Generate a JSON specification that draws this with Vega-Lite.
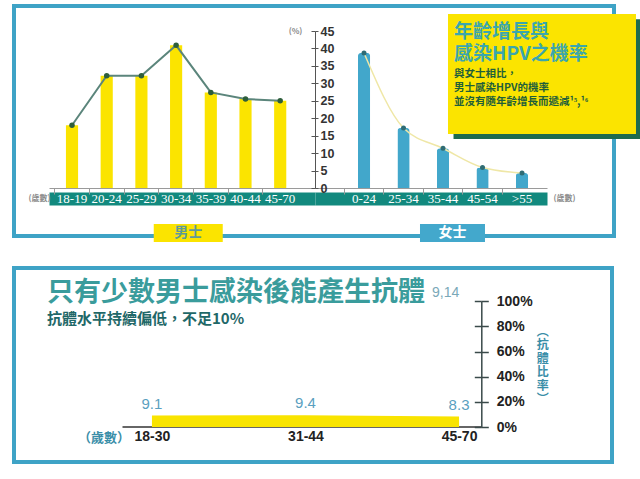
{
  "$schema": "https://vega.github.io/schema/vega-lite/v6.json",
  "padding": {"left": 12, "top": 4, "right": 0, "bottom": 0},
  "background": "white",
  "bounds": "flush",
  "spacing": 32,
  "config": {"font": "Noto Sans CJK TC", "view": {"stroke": null}, "axis": {"labelOverlap": false}},
  "datasets": {
    "men": [
      {"age": "18-19", "pct": 18},
      {"age": "20-24", "pct": 32.2},
      {"age": "25-29", "pct": 32.2},
      {"age": "30-34", "pct": 40.9},
      {"age": "35-39", "pct": 27.4},
      {"age": "40-44", "pct": 25.5},
      {"age": "45-70", "pct": 25}
    ],
    "women": [
      {"age": "0-24", "pct": 38.7},
      {"age": "25-34", "pct": 17.2},
      {"age": "35-44", "pct": 11.4},
      {"age": "45-54", "pct": 5.9},
      {"age": ">55", "pct": 4.3}
    ],
    "antibody": [
      {"age": "18-30", "rate": 9.1},
      {"age": "31-44", "rate": 9.4},
      {"age": "45-70", "rate": 8.3}
    ],
    "one": [{}]
  },
  "vconcat": [
    {
      "width": 600,
      "height": 230,
      "view": {"stroke": "#3ea3c6", "strokeWidth": 4},
      "title": {
        "text": ["年齡增長與", "感染HPV之機率"],
        "subtitle": ["與女士相比，", "男士感染HPV的機率", "並沒有隨年齡增長而遞減¹⁵,¹⁶"],
        "orient": "top",
        "anchor": "end",
        "align": "left",
        "frame": "group",
        "dx": -160,
        "offset": -101,
        "fontSize": 19,
        "fontWeight": "bold",
        "lineHeight": 22,
        "color": "#3aa6ae",
        "subtitleFontSize": 10.5,
        "subtitleFontWeight": "bold",
        "subtitleLineHeight": 14,
        "subtitleColor": "#1f5f3a",
        "subtitlePadding": 5
      },
      "resolve": {"scale": {"x": "independent"}, "axis": {"y": "independent"}},
      "layer": [
        {
          "data": {"name": "men"},
          "mark": {"type": "bar", "color": "#fbe400", "width": {"band": 0.35}},
          "encoding": {
            "x": {
              "field": "age", "type": "nominal",
              "scale": {"type": "band", "domain": ["18-19", "20-24", "25-29", "30-34", "35-39", "40-44", "45-70"], "range": [35, 301], "paddingInner": 0, "paddingOuter": 0.333, "align": 0.245},
              "axis": {"orient": "bottom", "offset": -37.5, "domainColor": "#12897e", "domainWidth": 13, "domainCap": "butt", "ticks": false, "labels": false,
                "title": "(歲數)", "titleX": 25, "titleY": 0, "titleAlign": "center", "titleBaseline": "middle", "titleFontSize": 8, "titleFontWeight": "bold", "titleColor": "#8a8a8a"}
            },
            "y": {
              "field": "pct", "type": "quantitative",
              "scale": {"domain": [0, 45], "range": [182, 25], "nice": false, "zero": false},
              "axis": {"orient": "right", "offset": -299, "values": [0, 5, 10, 15, 20, 25, 30, 35, 40, 45], "labelOverlap": false, "grid": false, "domainColor": "#555", "tickColor": "#555", "tickSize": 3, "labelColor": "#333", "labelFont": "Liberation Sans", "labelFontSize": 12.5, "labelFontWeight": "bold", "labelPadding": 2,
                "title": "(%)", "titleAngle": 0, "titleX": -20, "titleY": 25, "titleAlign": "center", "titleBaseline": "middle", "titleFontSize": 8, "titleFontWeight": "bold", "titleColor": "#8a8a8a"}
            }
          }
        },
        {
          "data": {"name": "one"},
          "mark": {"type": "point", "shape": "M-1,-0.638L1,-0.638L1,0.638L-1,0.638Z", "size": 35344, "filled": true, "color": "#1d6b4e", "opacity": 1},
          "encoding": {
            "x": {"datum": ">55", "bandPosition": 1.146, "type": "nominal", "scale": {"type": "band", "domain": ["0-24", "25-34", "35-44", "45-54", ">55"], "range": [301, 533], "paddingInner": 0, "paddingOuter": 0.437, "align": 0.848}, "axis": null},
            "y": {"datum": 31.2, "type": "quantitative", "axis": null}
          }
        },
        {
          "data": {"name": "one"},
          "mark": {"type": "point", "shape": "M-1,-0.638L1,-0.638L1,0.638L-1,0.638Z", "size": 35344, "filled": true, "color": "#fbe400", "opacity": 1},
          "encoding": {
            "x": {"datum": ">55", "bandPosition": 1.006, "type": "nominal", "scale": {"type": "band", "domain": ["0-24", "25-34", "35-44", "45-54", ">55"], "range": [301, 533], "paddingInner": 0, "paddingOuter": 0.437, "align": 0.848}, "axis": null},
            "y": {"datum": 32.7, "type": "quantitative", "axis": null}
          }
        },
        {
          "data": {"name": "men"},
          "mark": {"type": "line", "color": "#5b857b", "strokeWidth": 2},
          "encoding": {
            "x": {
              "field": "age", "type": "nominal",
              "scale": {"type": "band", "domain": ["18-19", "20-24", "25-29", "30-34", "35-39", "40-44", "45-70"], "range": [35, 301], "paddingInner": 0, "paddingOuter": 0.333, "align": 0.245},
              "axis": {"orient": "bottom", "offset": -48, "domainColor": "#9a9a9a", "tickColor": "#9a9a9a", "tickSize": 6, "bandPosition": 0, "labels": false, "title": null, "grid": false}
            },
            "y": {"field": "pct", "type": "quantitative",
              "axis": {"orient": "left", "offset": -301, "values": [0, 5, 10, 15, 20, 25, 30, 35, 40, 45], "domain": false, "labels": false, "tickColor": "#555", "tickSize": 4, "grid": false, "title": null}}
          }
        },
        {
          "data": {"name": "men"},
          "mark": {"type": "point", "filled": true, "color": "#2d5e3b", "size": 30, "opacity": 1},
          "encoding": {
            "x": {"field": "age", "type": "nominal", "scale": {"type": "band", "domain": ["18-19", "20-24", "25-29", "30-34", "35-39", "40-44", "45-70"], "range": [35, 301], "paddingInner": 0, "paddingOuter": 0.333, "align": 0.245},
              "axis": {"orient": "bottom", "offset": -37.5, "domain": false, "ticks": false, "tickSize": 0, "labelColor": "white", "labelFont": "Liberation Sans Narrow", "labelFontSize": 13, "labelAngle": 0, "labelBaseline": "middle", "labelPadding": 0, "labelOverlap": false, "zindex": 2, "title": null, "grid": false}},
            "y": {"field": "pct", "type": "quantitative", "axis": null}
          }
        },
        {
          "data": {"name": "women"},
          "mark": {"type": "bar", "color": "#42a7cb", "width": {"band": 0.31}, "cornerRadiusTopLeft": 3, "cornerRadiusTopRight": 3},
          "encoding": {
            "x": {
              "field": "age", "type": "nominal",
              "scale": {"type": "band", "domain": ["0-24", "25-34", "35-44", "45-54", ">55"], "range": [301, 533], "paddingInner": 0, "paddingOuter": 0.437, "align": 0.848},
              "axis": {"orient": "bottom", "offset": -37.5, "domainColor": "#12897e", "domainWidth": 13, "domainCap": "butt", "ticks": false, "labels": false,
                "title": "(歲數)", "titleX": 550, "titleY": 0, "titleAlign": "center", "titleBaseline": "middle", "titleFontSize": 8, "titleFontWeight": "bold", "titleColor": "#8a8a8a"}
            },
            "y": {"field": "pct", "type": "quantitative", "axis": null}
          }
        },
        {
          "data": {"name": "women"},
          "mark": {"type": "line", "color": "#efe7a6", "strokeWidth": 1.5, "interpolate": "monotone"},
          "encoding": {
            "x": {
              "field": "age", "type": "nominal",
              "scale": {"type": "band", "domain": ["0-24", "25-34", "35-44", "45-54", ">55"], "range": [301, 533], "paddingInner": 0, "paddingOuter": 0.437, "align": 0.848},
              "axis": {"orient": "bottom", "offset": -48, "domainColor": "#9a9a9a", "tickColor": "#9a9a9a", "tickSize": 6, "bandPosition": 0, "labels": false, "title": null, "grid": false}
            },
            "y": {"field": "pct", "type": "quantitative", "axis": null}
          }
        },
        {
          "data": {"name": "women"},
          "mark": {"type": "point", "filled": true, "color": "#2f6c74", "size": 25, "opacity": 1},
          "encoding": {
            "x": {"field": "age", "type": "nominal", "scale": {"type": "band", "domain": ["0-24", "25-34", "35-44", "45-54", ">55"], "range": [301, 533], "paddingInner": 0, "paddingOuter": 0.437, "align": 0.848},
              "axis": {"orient": "bottom", "offset": -37.5, "domain": false, "ticks": false, "tickSize": 0, "labelColor": "white", "labelFont": "Liberation Sans Narrow", "labelFontSize": 13, "labelAngle": 0, "labelBaseline": "middle", "labelPadding": 0, "labelOverlap": false, "zindex": 2, "title": null, "grid": false}},
            "y": {"field": "pct", "type": "quantitative", "axis": null}
          }
        },
        {
          "data": {"name": "one"},
          "mark": {"type": "point", "shape": "M-1,-0.26L1,-0.26L1,0.26L-1,0.26Z", "size": 4761, "filled": true, "color": "#fbe400", "opacity": 1},
          "encoding": {
            "x": {"datum": "30-34", "bandPosition": 0.85, "type": "nominal", "scale": {"type": "band", "domain": ["18-19", "20-24", "25-29", "30-34", "35-39", "40-44", "45-70"], "range": [35, 301], "paddingInner": 0, "paddingOuter": 0.333, "align": 0.245}, "axis": null},
            "y": {"datum": -12.9, "type": "quantitative", "axis": null}
          }
        },
        {
          "data": {"name": "one"},
          "mark": {"type": "text", "text": "男士", "fontSize": 14, "fontWeight": "bold", "color": "#5e9a98"},
          "encoding": {
            "x": {"datum": "30-34", "bandPosition": 0.85, "type": "nominal", "scale": {"type": "band", "domain": ["18-19", "20-24", "25-29", "30-34", "35-39", "40-44", "45-70"], "range": [35, 301], "paddingInner": 0, "paddingOuter": 0.333, "align": 0.245}, "axis": null},
            "y": {"datum": -12.9, "type": "quantitative", "axis": null}
          }
        },
        {
          "data": {"name": "one"},
          "mark": {"type": "point", "shape": "M-1,-0.277L1,-0.277L1,0.277L-1,0.277Z", "size": 4225, "filled": true, "color": "#43a8cc", "opacity": 1},
          "encoding": {
            "x": {"datum": "35-44", "bandPosition": 0.74, "type": "nominal", "scale": {"type": "band", "domain": ["0-24", "25-34", "35-44", "45-54", ">55"], "range": [301, 533], "paddingInner": 0, "paddingOuter": 0.437, "align": 0.848}, "axis": null},
            "y": {"datum": -12.9, "type": "quantitative", "axis": null}
          }
        },
        {
          "data": {"name": "one"},
          "mark": {"type": "text", "text": "女士", "fontSize": 14, "fontWeight": "bold", "color": "white"},
          "encoding": {
            "x": {"datum": "35-44", "bandPosition": 0.74, "type": "nominal", "scale": {"type": "band", "domain": ["0-24", "25-34", "35-44", "45-54", ">55"], "range": [301, 533], "paddingInner": 0, "paddingOuter": 0.437, "align": 0.848}, "axis": null},
            "y": {"datum": -12.9, "type": "quantitative", "axis": null}
          }
        }
      ]
    },
    {
      "width": 598,
      "height": 194,
      "view": {"stroke": "#3ea3c6", "strokeWidth": 4},
      "title": {
        "text": "只有少數男士感染後能產生抗體",
        "subtitle": "抗體水平持續偏低，不足10%",
        "anchor": "start",
        "frame": "group",
        "dx": 33,
        "offset": -60,
        "fontSize": 27,
        "fontWeight": "bold",
        "color": "#3a9c9c",
        "subtitleFontSize": 15,
        "subtitleFontWeight": "bold",
        "subtitleColor": "#1f6868",
        "subtitlePadding": 5
      },
      "resolve": {"axis": {"x": "independent", "y": "independent"}},
      "layer": [
        {
          "data": {"name": "antibody"},
          "mark": {"type": "area", "color": "#f9e400", "opacity": 1},
          "encoding": {
            "x": {
              "field": "age", "type": "ordinal",
              "scale": {"type": "point", "domain": ["18-30", "31-44", "45-70"], "range": [108, 467], "padding": 0.169, "align": 0.577},
              "axis": {"orient": "bottom", "offset": -35.5, "domainColor": "#333", "domainWidth": 1.5, "ticks": false, "labelAngle": 0, "labelColor": "#222", "labelFont": "Liberation Sans", "labelFontSize": 14, "labelFontWeight": "bold", "labelPadding": 3, "labelOverlap": false,
                "title": "（歲數）", "titleX": 89.5, "titleY": 11, "titleAlign": "center", "titleBaseline": "middle", "titleFontSize": 13, "titleFontWeight": "bold", "titleColor": "#3a8ea8"}
            },
            "y": {
              "field": "rate", "type": "quantitative",
              "scale": {"domain": [0, 100], "range": [159, 33.3], "nice": false, "zero": false},
              "axis": {"orient": "right", "offset": -130.7, "values": [0, 20, 40, 60, 80, 100], "labelOverlap": false, "labelExpr": "datum.value + '%'", "grid": false, "domainColor": "#3a4a4a", "domainWidth": 1.5, "tickColor": "#3a4a4a", "tickWidth": 1.5, "tickSize": 7, "labelColor": "#222", "labelFont": "Liberation Sans", "labelFontSize": 14, "labelFontWeight": "bold", "labelPadding": 8,
                "title": ["︵", "抗", "體", "比", "率", "︶"], "titleAngle": 0, "titleX": 61, "titleY": 58, "titleAlign": "center", "titleBaseline": "top", "titleLineHeight": 13.5, "titleFontSize": 12, "titleFontWeight": "bold", "titleColor": "#3a8ea8"}
            }
          }
        },
        {
          "data": {"name": "antibody"},
          "mark": {"type": "text", "baseline": "bottom", "dy": -4, "fontSize": 15, "font": "Liberation Sans", "color": "#5a9fbf"},
          "encoding": {
            "x": {"field": "age", "type": "ordinal", "axis": null},
            "y": {"field": "rate", "type": "quantitative",
              "axis": {"orient": "left", "offset": -467.3, "values": [0, 20, 40, 60, 80, 100], "domain": false, "labels": false, "tickColor": "#3a4a4a", "tickWidth": 1.5, "tickSize": 7, "grid": false, "title": null}},
            "text": {"field": "rate", "type": "quantitative", "format": ".1f"}
          }
        },
        {
          "data": {"name": "one"},
          "mark": {"type": "text", "text": "9,14", "align": "left", "dx": -27, "fontSize": 14, "font": "Liberation Sans", "color": "#7aa8b8"},
          "encoding": {
            "x": {"datum": "45-70", "type": "ordinal", "axis": null},
            "y": {"datum": 106.6, "type": "quantitative", "axis": null}
          }
        }
      ]
    }
  ]
}
